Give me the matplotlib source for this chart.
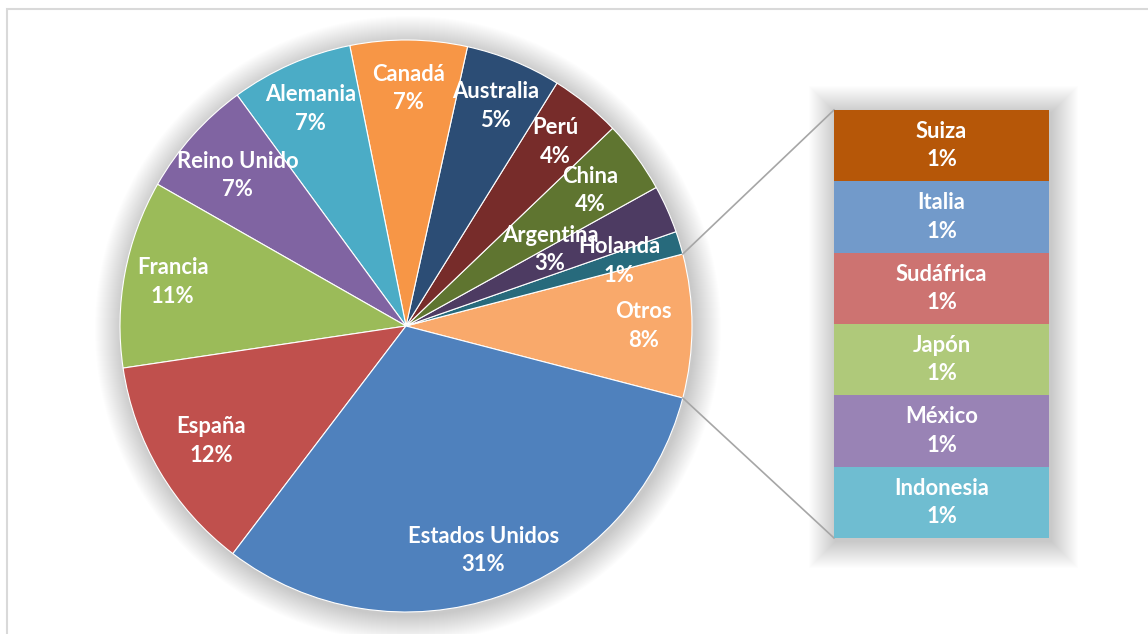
import matplotlib
matplotlib.use('Agg')
import matplotlib.pyplot as plt
import numpy as np
from matplotlib.patches import Circle, Rectangle

plt.rcParams['font.family'] = ['Lato', 'DejaVu Sans']

# datos del grafico principal (orden antihorario desde "Otros"), en %
pie_labels = ['Otros', 'Holanda', 'Argentina', 'China', 'Perú', 'Australia',
              'Canadá', 'Alemania', 'Reino Unido', 'Francia', 'España', 'Estados Unidos']
pie_values = [8.1, 1.3, 2.7, 4.1, 4.0, 5.4, 6.6, 6.9, 6.7, 10.6, 12.3, 31.3]
pie_colors = ['#F9A96B', '#276A7C', '#4D3B62', '#5F7530', '#772C2A', '#2C4D75',
              '#F79646', '#4BACC6', '#8064A2', '#9BBB59', '#C0504D', '#4F81BD']

# desglose de "Otros" (de arriba hacia abajo)
bar_labels = ['Suiza', 'Italia', 'Sudáfrica', 'Japón', 'México', 'Indonesia']
bar_values = [1.35, 1.35, 1.35, 1.35, 1.35, 1.35]
bar_colors = ['#B65708', '#729ACA', '#CD7371', '#AFC97A', '#9983B5', '#6FBDD1']

W, H = 1148, 634
fig = plt.figure(figsize=[W / 100, H / 100], dpi=100)
ax = fig.add_axes([0, 0, 1, 1])

cx, cy, R = 406, H - 326, 286
# caja de la barra en pixeles
bx0, bx1 = 834, 1049
by0, by1 = H - 538, H - 110

# sombras difusas
for k in range(1, 28):
    ax.add_patch(Circle((cx + 2, cy - 3), R + k, color='black', alpha=0.008, lw=0, zorder=0))
    ax.add_patch(Rectangle((bx0 - k + 2, by0 - k - 3), (bx1 - bx0) + 2 * k, (by1 - by0) + 2 * k,
                           color='black', alpha=0.008, lw=0, zorder=0))

total = sum(pie_values)
start = -pie_values[0] / total * 180
wedges, _ = ax.pie(pie_values, colors=pie_colors, startangle=start, counterclock=True,
                   center=(cx, cy), radius=R,
                   wedgeprops=dict(linewidth=0.8, edgecolor='white'))

fs = 15.8
# etiquetas del pie
label_dist = {'Argentina': (0.57, 28), 'Holanda': (0.78, None), 'Reino Unido': (0.79, None),
              'España': (0.79, None), 'China': (0.80, None)}
ang = start
for lab, v in zip(pie_labels, pie_values):
    mid = ang + v / total * 180
    ang = ang + v / total * 360
    f, a = label_dist.get(lab, (0.83, mid))
    if a is None:
        a = mid
    x = cx + f * R * np.cos(np.radians(a))
    y = cy + f * R * np.sin(np.radians(a))
    ax.text(x, y, f"{lab}\n{v / total * 100:.0f}%", ha='center', va='center',
            color='white', fontsize=fs, fontweight='bold', linespacing=1.45, zorder=5)

# lineas de conexion
a1 = np.radians(-start)
a2 = np.radians(start)
ax.plot([cx + R * np.cos(a1), bx0], [cy + R * np.sin(a1), by1], color='#A6A6A6', lw=1.2, zorder=1)
ax.plot([cx + R * np.cos(a2), bx0], [cy + R * np.sin(a2), by0], color='#A6A6A6', lw=1.2, zorder=1)

# borde del area del grafico
ax.add_patch(Rectangle((7, -10), W + 20, H - 9 + 10, fill=False, edgecolor='#D9D9D9', lw=1.5, zorder=6))

ax.set_xlim(0, W)
ax.set_ylim(0, H)
ax.axis('off')

# barra de "Otros"
ax2 = fig.add_axes([bx0 / W, by0 / H, (bx1 - bx0) / W, (by1 - by0) / H])
bottoms = np.cumsum([0] + bar_values[:-1])
ax2.bar([0] * len(bar_values), bar_values, bottom=bottoms, width=1, color=bar_colors, linewidth=0)
for lab, v, b in zip(bar_labels, bar_values, bottoms):
    ax2.text(0, b + v / 2, f"{lab}\n{v / total * 100:.0f}%", ha='center', va='center',
             color='white', fontsize=fs, fontweight='bold', linespacing=1.45)
ax2.set_xlim(-0.5, 0.5)
ax2.set_ylim(sum(bar_values), 0)
ax2.axis('off')

fig.savefig('out.png', dpi=100)
